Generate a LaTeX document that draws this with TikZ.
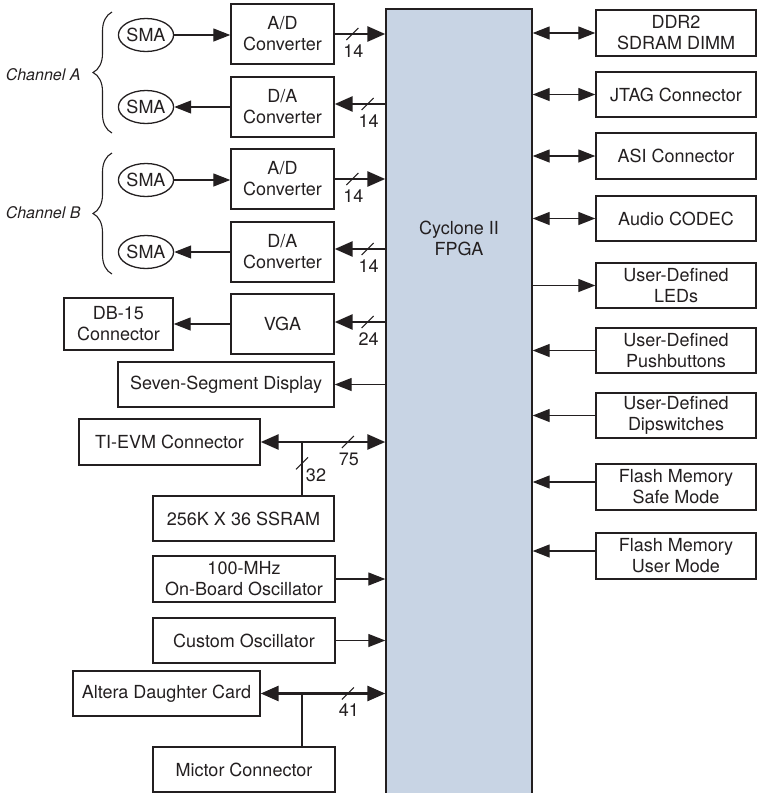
\documentclass[tikz,border=0pt]{standalone}
\usepackage{fontspec}
\setmainfont{TeX Gyre Heros}
\usetikzlibrary{arrows.meta,shapes.geometric,decorations.pathreplacing,calc}
\definecolor{fpgafill}{HTML}{C8D4E4}
\definecolor{ink}{HTML}{231F20}
\begin{document}
\begin{tikzpicture}[x=1pt,y=-1pt,
  every node/.style={font=\fontsize{18}{21}\selectfont, text=ink},
  blk/.style={draw=ink, line width=1.4pt, inner sep=0pt, align=center},
  sma/.style={draw=ink, line width=1.3pt, ellipse, inner sep=0pt, minimum width=52pt, minimum height=33pt},
  thin/.style={draw=ink, line width=1.3pt, -{Triangle[length=17pt,width=13pt]}},
  thinbi/.style={draw=ink, line width=1.3pt, {Triangle[length=17pt,width=13pt]}-{Triangle[length=17pt,width=13pt]}},
  bus/.style={draw=ink, line width=2.8pt, -{Triangle[length=18pt,width=15pt]}},
  busbi/.style={draw=ink, line width=2.8pt, {Triangle[length=18pt,width=15pt]}-{Triangle[length=18pt,width=15pt]}},
  busplain/.style={draw=ink, line width=2.8pt},
  slashmark/.style={draw=ink, line width=1.1pt},
  chan/.style={font=\fontsize{16}{19}\selectfont\itshape, anchor=east},
  brc/.style={draw=ink, line width=1.1pt, decorate, decoration={brace, amplitude=19pt, aspect=0.5}}
]
\useasboundingbox (0,0) rectangle (757,793);
\clip (0,0) rectangle (757,793);

% FPGA
\node[blk, fill=fpgafill, minimum width=146pt, minimum height=790pt] (fpga) at (459,404) {};
\node[align=center] (fpgatext) at (459,238) {Cyclone II\\FPGA};

% left column
\node[sma] (sma1) at (146,35) {SMA};
\node[sma] (sma2) at (146,107) {SMA};
\node[sma] (sma3) at (146,180) {SMA};
\node[sma] (sma4) at (146,252) {SMA};
\node[blk, minimum width=103pt, minimum height=60pt] (ad1) at (282.5,34) {A/D\\Converter};
\node[blk, minimum width=103pt, minimum height=60pt] (da1) at (282.5,107) {D/A\\Converter};
\node[blk, minimum width=103pt, minimum height=60pt] (ad2) at (282.5,179) {A/D\\Converter};
\node[blk, minimum width=103pt, minimum height=60pt] (da2) at (282.5,252) {D/A\\Converter};
\node[blk, minimum width=103pt, minimum height=60pt] (vga) at (282.5,324) {VGA};
\node[blk, minimum width=109pt, minimum height=52pt] (db15) at (118.5,324) {DB-15\\Connector};
\node[blk, minimum width=216pt, minimum height=45pt] (seg) at (226,384.5) {Seven-Segment Display};
\node[blk, minimum width=181pt, minimum height=46pt] (tievm) at (169.5,442) {TI-EVM Connector};
\node[blk, minimum width=181pt, minimum height=45pt] (ssram) at (243.5,518.5) {256K X 36 SSRAM};
\node[blk, minimum width=182pt, minimum height=46pt] (osc) at (244,579) {100-MHz\\On-Board Oscillator};
\node[blk, minimum width=182pt, minimum height=45pt] (cosc) at (244,640.5) {Custom Oscillator};
\node[blk, minimum width=187pt, minimum height=45pt] (altera) at (166.5,693.5) {Altera Daughter Card};
\node[blk, minimum width=182pt, minimum height=45pt] (mictor) at (244,769.5) {Mictor Connector};

% channel labels and braces
\node[chan] (cha) at (84,75) {Channel A};
\node[chan] (chb) at (84,213) {Channel B};
\draw[brc] (112,133) -- (112,12);
\draw[brc] (112,274) -- (112,153);

% right column
\node[blk, minimum width=160pt, minimum height=46pt] (ddr) at (676,33) {DDR2\\SDRAM DIMM};
\node[blk, minimum width=160pt, minimum height=45pt] (jtag) at (676,94.5) {JTAG Connector};
\node[blk, minimum width=160pt, minimum height=46pt] (asi) at (676,156) {ASI Connector};
\node[blk, minimum width=160pt, minimum height=45pt] (audio) at (676,218.5) {Audio CODEC};
\node[blk, minimum width=160pt, minimum height=45pt] (leds) at (676,285.5) {User-Defined\\LEDs};
\node[blk, minimum width=160pt, minimum height=45pt] (push) at (676,350.5) {User-Defined\\Pushbuttons};
\node[blk, minimum width=160pt, minimum height=45pt] (dip) at (676,415.5) {User-Defined\\Dipswitches};
\node[blk, minimum width=160pt, minimum height=46pt] (fsafe) at (676,487) {Flash Memory\\Safe Mode};
\node[blk, minimum width=160pt, minimum height=46pt] (fuser) at (676,556) {Flash Memory\\User Mode};

% SMA connections
\draw[thin] (sma1) -- (ad1.west |- sma1);
\draw[thin] (da1.west) -- (sma2);
\draw[thin] (sma3) -- (ad2.west |- sma3);
\draw[thin] (da2.west) -- (sma4);
\draw[thin] (vga) -- (db15);

% buses left
\draw[bus] (ad1.east) -- (ad1.east -| fpga.west) coordinate[pos=0.35] (s1);
\draw[bus] ([yshift=3pt]da1.east -| fpga.west) -- ([yshift=3pt]da1.east) coordinate[pos=0.35] (s2);
\draw[bus] (ad2.east) -- (ad2.east -| fpga.west) coordinate[pos=0.35] (s3);
\draw[bus] ([yshift=3pt]da2.east -| fpga.west) -- ([yshift=3pt]da2.east) coordinate[pos=0.35] (s4);
\draw[bus] ([yshift=2pt]vga.east -| fpga.west) -- ([yshift=2pt]vga.east) coordinate[pos=0.35] (s5);
\draw[thin] (seg.east -| fpga.west) -- (seg.east);

\coordinate (j1) at (302,442);
\draw[busbi] (tievm.east) -- (tievm.east -| fpga.west) coordinate[pos=0.7] (s6);
\draw[busplain] (j1) -- (j1 |- ssram.north) coordinate[pos=0.4] (s7);
\draw[thin] (osc.east) -- (osc.east -| fpga.west);
\draw[thin] (cosc.east) -- (cosc.east -| fpga.west);
\coordinate (j2) at (302,693.5);
\draw[busbi] (altera.east) -- (altera.east -| fpga.west) coordinate[pos=0.7] (s8);
\draw[busplain] (j2) -- (j2 |- mictor.north);

% slash marks
\foreach \s/\t in {s1/14,s2/14,s3/14,s4/14,s5/24,s6/75,s8/41}{
  \draw[slashmark] ($(\s)+(-6,6)$) -- ($(\s)+(6,-6)$);
  \node[inner sep=0pt] at ($(\s)+(1,17)$) {\t};
}
\draw[slashmark] ($(s7)+(-6,6)$) -- ($(s7)+(6,-6)$);
\node[inner sep=0pt] (l32) at ($(s7)+(14,12)$) {32};

% right side connections
\draw[thinbi] (ddr.west -| fpga.east) -- (ddr.west);
\draw[thinbi] (jtag.west -| fpga.east) -- (jtag.west);
\draw[thinbi] (asi.west -| fpga.east) -- (asi.west);
\draw[thinbi] (audio.west -| fpga.east) -- (audio.west);
\draw[thin] (leds.west -| fpga.east) -- (leds.west);
\draw[thin] (push.west) -- (push.west -| fpga.east);
\draw[thin] (dip.west) -- (dip.west -| fpga.east);
\draw[thin] ([yshift=5pt]fsafe.west) -- ([yshift=5pt]fsafe.west -| fpga.east);
\draw[thin] ([yshift=5pt]fuser.west) -- ([yshift=5pt]fuser.west -| fpga.east);
\end{tikzpicture}
\end{document}
